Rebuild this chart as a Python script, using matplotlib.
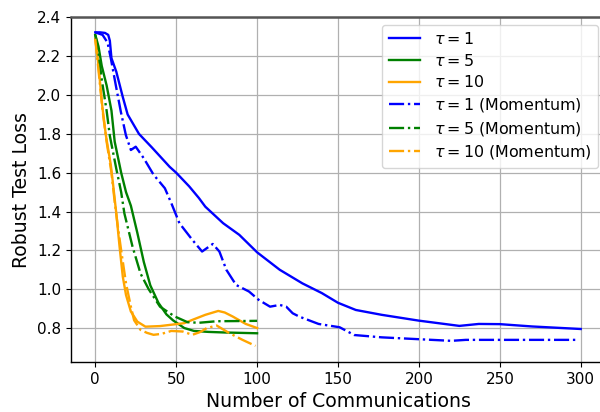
import matplotlib
matplotlib.use("Agg")
import matplotlib.pyplot as plt

# tau = 1
x_t1 = [0, 3, 6, 8, 9, 10, 13, 17, 20, 27, 35, 46, 50, 58, 64, 68, 79, 89, 100, 114, 128, 140, 150, 161, 177, 200, 225, 237, 250, 270, 300]
y_t1 = [2.323, 2.323, 2.32, 2.31, 2.28, 2.19, 2.12, 1.99, 1.90, 1.80, 1.73, 1.63, 1.60, 1.53, 1.47, 1.425, 1.34, 1.28, 1.19, 1.10, 1.03, 0.98, 0.93, 0.893, 0.868, 0.838, 0.811, 0.821, 0.82, 0.808, 0.795]

# tau = 5
x_t5 = [0, 2, 4, 7, 10, 12, 16, 19, 22, 26, 30, 34, 39, 44, 48, 55, 61, 70, 80, 90, 100]
y_t5 = [2.31, 2.25, 2.15, 2.05, 1.92, 1.76, 1.60, 1.50, 1.43, 1.29, 1.14, 1.02, 0.93, 0.87, 0.84, 0.80, 0.785, 0.78, 0.777, 0.775, 0.773]

# tau = 10
x_t10 = [0, 1.5, 4.5, 6.6, 9.6, 11, 13, 15, 17, 19, 22, 26, 31, 40, 50, 55, 60, 68, 76, 80, 85, 93, 100]
y_t10 = [2.29, 2.19, 1.93, 1.79, 1.64, 1.54, 1.39, 1.22, 1.065, 0.97, 0.885, 0.833, 0.807, 0.81, 0.82, 0.825, 0.842, 0.868, 0.888, 0.88, 0.859, 0.821, 0.80]

# tau = 1 (Momentum)
x_m1 = [0, 4.5, 7.6, 9.7, 12.7, 15.8, 18.9, 22, 25, 30, 36, 43, 47, 52, 60, 66, 72.6, 76.7, 81, 87, 95, 101, 108, 114, 118, 122, 126, 138, 151, 160, 177, 208, 220, 229, 260, 298]
y_m1 = [2.323, 2.31, 2.27, 2.185, 2.05, 1.914, 1.794, 1.717, 1.734, 1.674, 1.59, 1.52, 1.443, 1.34, 1.254, 1.194, 1.233, 1.194, 1.10, 1.022, 0.988, 0.945, 0.91, 0.919, 0.91, 0.876, 0.859, 0.821, 0.804, 0.764, 0.752, 0.739, 0.734, 0.739, 0.739, 0.739]

# tau = 5 (Momentum)
x_m5 = [0, 2, 4, 7, 9, 13, 16, 18, 23, 28, 33, 40, 49, 57, 64, 75, 90, 100]
y_m5 = [2.31, 2.22, 2.08, 1.92, 1.79, 1.62, 1.50, 1.39, 1.22, 1.08, 1.00, 0.91, 0.86, 0.83, 0.827, 0.835, 0.836, 0.837]

# tau = 10 (Momentum)
x_m10 = [0, 1.5, 4.5, 7, 10, 12, 14, 16, 19, 22, 24, 28, 32, 36, 41, 47, 54, 60, 65, 69, 75, 83, 91, 99]
y_m10 = [2.29, 2.17, 1.92, 1.76, 1.60, 1.45, 1.32, 1.20, 1.03, 0.91, 0.84, 0.79, 0.775, 0.765, 0.77, 0.785, 0.782, 0.765, 0.78, 0.80, 0.813, 0.773, 0.739, 0.708]

labels = [r"$\tau = 1$", r"$\tau = 5$", r"$\tau = 10$",
          r"$\tau = 1$ (Momentum)", r"$\tau = 5$ (Momentum)", r"$\tau = 10$ (Momentum)"]
x_ticks = [0, 50, 100, 150, 200, 250, 300]
y_ticks = [0.8, 1.0, 1.2, 1.4, 1.6, 1.8, 2.0, 2.2, 2.4]

fig = plt.figure(figsize=(6, 4.12), dpi=100)
ax = fig.add_axes([71 / 600, 1 - 362 / 412, 534 / 600, (362 - 17.4) / 412])

lw = 1.7
ax.plot(x_t1, y_t1, color="blue", lw=lw, label=labels[0])
ax.plot(x_t5, y_t5, color="green", lw=lw, label=labels[1])
ax.plot(x_t10, y_t10, color="orange", lw=lw, label=labels[2])
ax.plot(x_m1, y_m1, color="blue", lw=lw, ls="-.", label=labels[3])
ax.plot(x_m5, y_m5, color="green", lw=lw, ls="-.", label=labels[4])
ax.plot(x_m10, y_m10, color="orange", lw=lw, ls="-.", label=labels[5])

ax.set_xlim(-15, 315)
ax.set_ylim(0.625, 2.4)
ax.set_xticks(x_ticks)
ax.set_yticks(y_ticks)
ax.tick_params(labelsize=11)
ax.grid(True, color="#b0b0b0", lw=0.9)
ax.set_axisbelow(True)
ax.set_xlabel("Number of Communications", fontsize=13.6)
ax.set_ylabel("Robust Test Loss", fontsize=13.6)

ax.spines["top"].set_color("#555555")
ax.spines["top"].set_linewidth(1.8)
ax.spines["right"].set_visible(False)
for s in ("left", "bottom"):
    ax.spines[s].set_linewidth(1.0)

ax.legend(loc="upper right", fontsize=11.4, labelspacing=0.36,
          borderaxespad=0.45, handletextpad=0.85)

fig.savefig("out.png", dpi=100)
